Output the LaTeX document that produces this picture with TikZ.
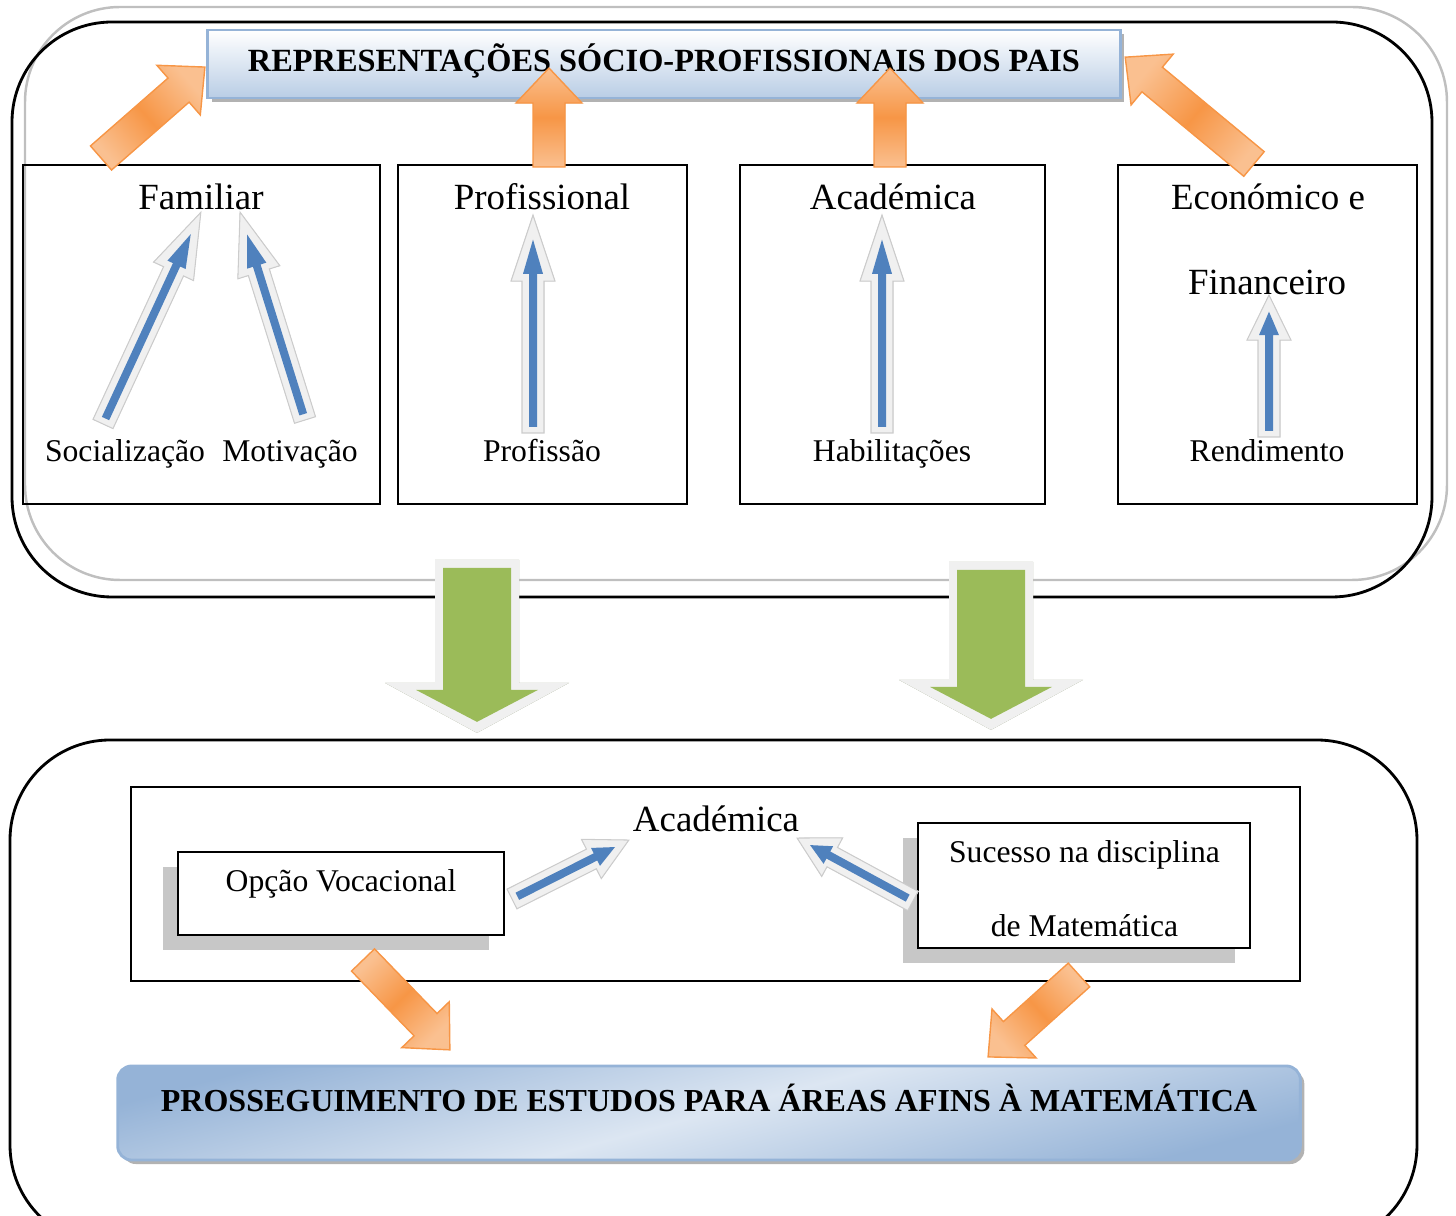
\documentclass[tikz,border=0pt]{standalone}
\usepackage{fontspec}
\setmainfont{Liberation Serif}
\usetikzlibrary{calc,positioning,shadows}
\definecolor{arrorange}{HTML}{F79646}
\definecolor{arrlight}{HTML}{FAC090}
\definecolor{arrdark}{HTML}{984807}
\definecolor{arrblue}{HTML}{4F81BD}
\definecolor{arrgreen}{HTML}{9BBB59}
\definecolor{boxblue}{HTML}{B9CDE5}
\definecolor{edgeblue}{HTML}{95B3D7}
\definecolor{paleblue}{HTML}{DCE6F2}
\tikzstyle{panel} = [draw=black, line width=0.8pt, rounded corners=1cm]
\tikzstyle{ghost} = [draw=black!25, line width=0.7pt, rounded corners=0.95cm]
\tikzstyle{colbox} = [rectangle, draw=black, line width=0.5pt, inner sep=0pt]
\tikzstyle{card} = [rectangle, draw=black, line width=0.6pt, fill=white, inner sep=0pt, drop shadow={shadow xshift=-0.15cm, shadow yshift=-0.15cm, fill=black!22, opacity=1}]
\tikzstyle{banner} = [rectangle, draw=edgeblue, line width=0.8pt, inner sep=0pt, font=\bfseries\fontsize{9.2}{11}\selectfont, drop shadow={shadow xshift=0.04cm, shadow yshift=-0.04cm, fill=black!30, opacity=1}]
\tikzstyle{colhead} = [anchor=base, inner sep=0pt, font=\fontsize{10.5}{12}\selectfont]
\tikzstyle{colitem} = [anchor=base, inner sep=0pt, font=\fontsize{9}{11}\selectfont]

% direction and length (px) of a block arrow
\newcommand{\arrowdir}[2]{%
  \path let \p1=(#1), \p2=(#2) in \pgfextra{%
    \pgfmathsetmacro\arrang{atan2(\y2-\y1,\x2-\x1)}%
    \pgfmathsetmacro\arrlen{veclen(\x2-\x1,\y2-\y1)/0.28453}%
    \global\let\arrang\arrang\global\let\arrlen\arrlen};}
% style, tail, start, end, shaft, head, head length
\newcommand{\arrowpath}[7]{%
  \path[shift={(#2)}, rotate=\arrang, x=0.01cm, y=0.01cm, #1]
    (#3,-#5) -- ({#4-#7},-#5) -- ({#4-#7},-#6) -- (#4,0)
    -- ({#4-#7},#6) -- ({#4-#7},#5) -- (#3,#5) -- cycle;}
\newcommand{\orangearrow}[2]{%
  \arrowdir{#1}{#2}%
  \pgfmathsetmacro\shadeang{\arrang-90}%
  \begin{scope}[xshift=1pt, yshift=-1pt]
    \arrowpath{fill=arrdark}{#1}{0}{\arrlen}{16}{33}{35}
  \end{scope}
  \arrowpath{draw=arrorange, line width=0.4pt, top color=arrlight, bottom color=arrlight, middle color=arrorange, shading angle=\shadeang}{#1}{0}{\arrlen}{16}{33}{35}}
\newcommand{\bluearrow}[3]{%
  \arrowdir{#1}{#2}%
  \pgfmathsetmacro\innerend{\arrlen-0.37*#3}%
  \begin{scope}[xshift=0.9pt, yshift=-0.9pt]
    \arrowpath{fill=black!40}{#1}{0}{\arrlen}{11}{22}{#3}
  \end{scope}
  \arrowpath{fill=black!6, draw=black!20, line width=0.3pt}{#1}{0}{\arrlen}{11}{22}{#3}
  \arrowpath{fill=arrblue}{#1}{6}{\innerend}{4}{10}{0.52*#3}}
\newcommand{\greenarrow}[2]{%
  \arrowdir{#1}{#2}%
  \pgfmathsetmacro\innerend{\arrlen-11}%
  \begin{scope}[xshift=1pt, yshift=-1pt]
    \arrowpath{fill=arrgreen!35!gray}{#1}{0}{\arrlen}{42}{92}{50}
  \end{scope}
  \arrowpath{fill=black!6}{#1}{0}{\arrlen}{42}{92}{50}
  \arrowpath{fill=arrgreen}{#1}{8}{\innerend}{34}{61}{32}}

\begin{document}
\begin{tikzpicture}[x=0.01cm, y=-0.01cm]
	\useasboundingbox (0,0) rectangle (1456,1216);
	\clip (0,0) rectangle (1456,1216);
	\draw [ghost] (25,7) rectangle (1447,580);
	\draw [panel] (12,22) rectangle (1432,597);
	\draw [panel] (10,740) rectangle (1417,1245);

	\node (repbox) [banner, minimum width=9.12cm, minimum height=0.68cm, top color=white, bottom color=boxblue, text height=7pt, text depth=3pt] at (664,64) {REPRESENTAÇÕES SÓCIO-PROFISSIONAIS DOS PAIS};

	\node (fam) [colbox, minimum width=3.57cm, minimum height=3.39cm] at (201.5,334.5) {};
	\node (prof) [colbox, minimum width=2.89cm, minimum height=3.39cm] at (542.5,334.5) {};
	\node (acad) [colbox, minimum width=3.05cm, minimum height=3.39cm] at (892.5,334.5) {};
	\node (econ) [colbox, minimum width=2.99cm, minimum height=3.39cm] at (1267.5,334.5) {};

	\node (famtxt) [colhead] at (201,210) {Familiar};
	\node (proftxt) [colhead] at (542,210) {Profissional};
	\node (acadtxt) [colhead] at (893,210) {Académica};
	\node (econtxt) [colhead] at (1268,210) {Económico e};
	\node (fintxt) [colhead] at (1267,295) {Financeiro};
	\node (soc) [colitem] at (125,462) {Socialização};
	\node (mot) [colitem] at (290,462) {Motivação};
	\node (prf) [colitem] at (542,462) {Profissão};
	\node (hab) [colitem] at (892,462) {Habilitações};
	\node (ren) [colitem] at (1267,462) {Rendimento};

	\node (choice) [colbox, minimum width=11.69cm, minimum height=1.94cm] at (715.5,884) {};
	\node (acadlow) [colhead] at (716,832) {Académica};
	\node (voc) [card, minimum width=3.26cm, minimum height=0.83cm] at (341,893.5) {};
	\node (voctxt) [colitem] at (341,892) {Opção Vocacional};
	\node (suc) [card, minimum width=3.32cm, minimum height=1.25cm] at (1084,885.5) {};
	\node (suctxt) [colitem] at (1084.5,863) {Sucesso na disciplina};
	\node (mattxt) [colitem] at (1084.5,937) {de Matemática};

	\node (goal) [banner, font=\bfseries\fontsize{9.1}{11}\selectfont, rounded corners=4pt, minimum width=11.82cm, minimum height=0.94cm, top color=edgeblue, bottom color=edgeblue, middle color=paleblue, shading angle=15, text height=6.5pt, text depth=7.6pt] at (709,1113) {PROSSEGUIMENTO DE ESTUDOS PARA ÁREAS AFINS À MATEMÁTICA};

	%arrow ends
	\coordinate (o1a) at (101,158); \coordinate (o1b) at (205,67);
	\coordinate (o2a) at (549,167); \coordinate (o2b) at (549,68);
	\coordinate (o3a) at (890,167); \coordinate (o3b) at (890,68);
	\coordinate (o4a) at (1254,164); \coordinate (o4b) at (1125,57);
	\coordinate (o5a) at (363,960); \coordinate (o5b) at (450,1050);
	\coordinate (o6a) at (1079,975); \coordinate (o6b) at (988,1057);
	\coordinate (soc-a) at (103,424); \coordinate (soc-b) at (201,212);
	\coordinate (mot-a) at (305,420); \coordinate (mot-b) at (240,212);
	\coordinate (prf-a) at (533,433); \coordinate (prf-b) at (533,215);
	\coordinate (hab-a) at (882,433); \coordinate (hab-b) at (882,215);
	\coordinate (ren-a) at (1269,437); \coordinate (ren-b) at (1269,295);
	\coordinate (voc-a) at (512,899); \coordinate (voc-b) at (629,840);
	\coordinate (suc-a) at (913,901); \coordinate (suc-b) at (797,838);
	\coordinate (g1a) at (477,560); \coordinate (g1b) at (477,733);
	\coordinate (g2a) at (991,562); \coordinate (g2b) at (991,730);

	%arrows
	\bluearrow{soc-a}{soc-b}{65}
	\bluearrow{mot-a}{mot-b}{63}
	\bluearrow{prf-a}{prf-b}{66}
	\bluearrow{hab-a}{hab-b}{66}
	\bluearrow{ren-a}{ren-b}{45}
	\bluearrow{voc-a}{voc-b}{42}
	\bluearrow{suc-a}{suc-b}{40}
	\orangearrow{o1a}{o1b}
	\orangearrow{o2a}{o2b}
	\orangearrow{o3a}{o3b}
	\orangearrow{o4a}{o4b}
	\orangearrow{o5a}{o5b}
	\orangearrow{o6a}{o6b}
	\greenarrow{g1a}{g1b}
	\greenarrow{g2a}{g2b}

\end{tikzpicture}
\end{document}
